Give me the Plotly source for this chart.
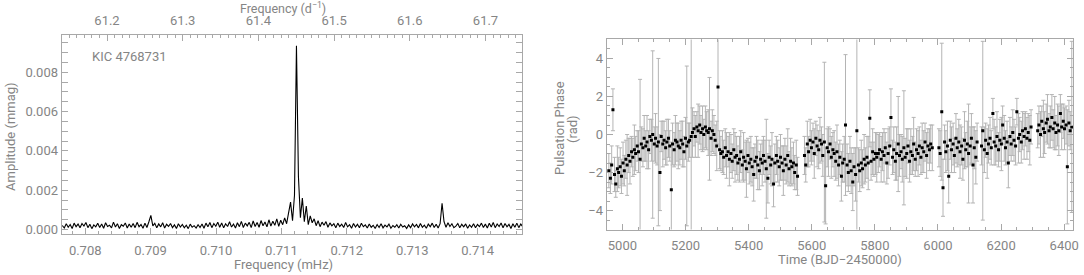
import numpy as np
import plotly.graph_objects as go

# ---------------- Left panel: amplitude spectrum ----------------
amp_mmag = [
    0.00021, 0.00008, 0.00030, 0.00012, 0.00026, 0.00006, 0.00033, 0.00015, 0.00028, 0.00009,
    0.00031, 0.00018, 0.00036, 0.00010, 0.00027, 0.00005, 0.00024, 0.00014, 0.00032, 0.00011,
    0.00029, 0.00007, 0.00035, 0.00016, 0.00022, 0.00009, 0.00038, 0.00013, 0.00030, 0.00006,
    0.00025, 0.00017, 0.00034, 0.00008, 0.00028, 0.00012, 0.00031, 0.00010, 0.00037, 0.00015,
    0.00026, 0.00007, 0.00033, 0.00011, 0.00040, 0.00072, 0.00019, 0.00032, 0.00009, 0.00029,
    0.00014, 0.00035, 0.00008, 0.00027, 0.00016, 0.00031, 0.00010, 0.00024, 0.00006, 0.00030,
    0.00013, 0.00026, 0.00009, 0.00022, 0.00005, 0.00028, 0.00012, 0.00020, 0.00008, 0.00025,
    0.00011, 0.00029, 0.00007, 0.00033, 0.00014, 0.00036, 0.00010, 0.00031, 0.00017, 0.00038,
    0.00012, 0.00034, 0.00009, 0.00030, 0.00016, 0.00040, 0.00013, 0.00028, 0.00008, 0.00035,
    0.00015, 0.00042, 0.00011, 0.00033, 0.00019, 0.00037, 0.00010, 0.00044, 0.00016, 0.00036,
    0.00012, 0.00046, 0.00020, 0.00039, 0.00014, 0.00050, 0.00018, 0.00043, 0.00022, 0.00055,
    0.00017, 0.00048, 0.00025, 0.00060, 0.00030, 0.00085, 0.00140, 0.00045, 0.00175, 0.00935,
    0.00270, 0.00060, 0.00160, 0.00040, 0.00120, 0.00025, 0.00070, 0.00035, 0.00055, 0.00020,
    0.00045, 0.00015, 0.00038, 0.00022, 0.00041, 0.00012, 0.00034, 0.00019, 0.00030, 0.00009,
    0.00033, 0.00016, 0.00028, 0.00011, 0.00036, 0.00014, 0.00025, 0.00007, 0.00031, 0.00013,
    0.00027, 0.00010, 0.00032, 0.00015, 0.00024, 0.00008, 0.00029, 0.00012, 0.00022, 0.00006,
    0.00026, 0.00011, 0.00030, 0.00009, 0.00023, 0.00014, 0.00028, 0.00007, 0.00021, 0.00012,
    0.00025, 0.00008, 0.00027, 0.00013, 0.00020, 0.00006, 0.00024, 0.00010, 0.00029, 0.00014,
    0.00026, 0.00009, 0.00031, 0.00012, 0.00023, 0.00007, 0.00028, 0.00015, 0.00033, 0.00011,
    0.00027, 0.00008, 0.00030, 0.00134, 0.00040, 0.00012, 0.00035, 0.00016, 0.00030, 0.00010,
    0.00018, 0.00031, 0.00010, 0.00027, 0.00014, 0.00029, 0.00007, 0.00024, 0.00012, 0.00030,
    0.00009, 0.00026, 0.00015, 0.00033, 0.00011, 0.00028, 0.00008, 0.00032, 0.00013, 0.00036,
    0.00010, 0.00029, 0.00016, 0.00034, 0.00009, 0.00031, 0.00014, 0.00027, 0.00006, 0.00030,
    0.00012, 0.00033, 0.00010, 0.00028, 0.00015, 0.00035, 0.00011,
]
FREQ_MIN_MHZ = 0.70765
FREQ_MAX_MHZ = 0.71475
freq_mhz = np.linspace(FREQ_MIN_MHZ, FREQ_MAX_MHZ, len(amp_mmag))  # periodogram sampling grid

freq_ticks_mhz = [0.708, 0.709, 0.710, 0.711, 0.712, 0.713, 0.714]
freq_ticks_cd = [61.2, 61.3, 61.4, 61.5, 61.6, 61.7]
amp_ticks = [0.000, 0.002, 0.004, 0.006, 0.008]
star_label = "KIC 4768731"

# ---------------- Right panel: pulsation phase ----------------
time_bjd = [
    4957, 4962, 4966, 4970, 4975, 4979, 4984, 4988, 4993, 4997,
    5002, 5006, 5011, 5015, 5020, 5024, 5029, 5033, 5038, 5042,
    5047, 5051, 5056, 5060, 5065, 5069, 5074, 5078, 5083, 5087,
    5092, 5096, 5101, 5105, 5110, 5114, 5119, 5123, 5128, 5132,
    5137, 5141, 5146, 5150, 5155, 5159, 5164, 5168, 5173, 5177,
    5182, 5186, 5191, 5195, 5200, 5204, 5209, 5213, 5218, 5222,
    5227, 5231, 5236, 5240, 5245, 5249, 5254, 5258, 5263, 5267,
    5272, 5276, 5281, 5285, 5290, 5294, 5299, 5303, 5308, 5312,
    5317, 5321, 5326, 5330, 5335, 5339, 5344, 5348, 5353, 5357,
    5362, 5366, 5371, 5375, 5380, 5384, 5389, 5393, 5398, 5402,
    5407, 5411, 5416, 5420, 5425, 5429, 5434, 5438, 5443, 5447,
    5452, 5456, 5461, 5465, 5470, 5474, 5479, 5483, 5488, 5492,
    5497, 5501, 5506, 5510, 5515, 5519, 5524, 5528, 5533, 5537,
    5542, 5546, 5551, 5555,
    5577, 5581, 5586, 5590, 5595, 5599, 5604, 5608, 5613, 5617,
    5622, 5626, 5631, 5635, 5640, 5644, 5649, 5653, 5658, 5662,
    5667, 5671, 5676, 5680, 5685, 5689, 5694, 5698, 5703, 5707,
    5712, 5716, 5721, 5725, 5730, 5734, 5739, 5743, 5748, 5752,
    5757, 5761, 5766, 5770, 5775, 5779, 5784, 5788, 5793, 5797,
    5802, 5806, 5811, 5815, 5820, 5824, 5829, 5833, 5838, 5842,
    5847, 5851, 5856, 5860, 5865, 5869, 5874, 5878, 5883, 5887,
    5892, 5896, 5901, 5905, 5910, 5914, 5919, 5923, 5928, 5932,
    5937, 5941, 5946, 5950, 5955, 5959, 5964, 5968, 5973, 5977,
    5982,
    6003, 6007, 6012, 6016, 6021, 6025, 6030, 6034, 6039, 6043,
    6048, 6052, 6057, 6061, 6066, 6070, 6075, 6079, 6084, 6088,
    6093, 6097, 6102, 6106, 6111, 6115, 6120, 6124,
    6138, 6142, 6147, 6151, 6156, 6160, 6165, 6169, 6174, 6178,
    6183, 6187, 6192, 6196, 6201, 6205, 6210, 6214, 6219, 6223,
    6228, 6232, 6237, 6241, 6246, 6250, 6255, 6259, 6264, 6268,
    6273, 6277, 6282, 6286, 6291, 6295,
    6316, 6320, 6325, 6329, 6334, 6338, 6343, 6347, 6352, 6356,
    6361, 6365, 6370, 6374, 6379, 6383, 6388, 6392, 6397, 6401,
    6406, 6410, 6415, 6419, 6424,
]
phase_rad = [
    -1.9, -2.3, -1.6, 1.3, -2.1, -2.6, -1.8, -2.0, -1.7, -2.2,
    -1.5, -1.9, -1.3, -1.6, -1.1, -1.4, -0.9, -1.2, -0.8, -1.0,
    -0.6, -0.9, -1.3, -0.5, -0.7, -0.2, -0.6, -0.4, -0.8, -0.1,
    -0.3, 0.0, -0.5, -0.2, -0.6, -0.4, -2.0, -0.1, -0.5, -0.3,
    -0.7, -0.4, -0.2, -0.6, -2.9, -0.5, -0.8, -0.3, -0.4, -0.6,
    -0.7, -0.3, -0.5, -0.9, -0.2, -0.6, -0.4, -0.3, -0.1, 0.1,
    0.3, -0.1, 0.4, 0.2, 0.5, 0.1, 0.3, 0.0, 0.4, 0.2,
    0.1, 0.3, -0.2, 0.2, 0.0, -0.3, -0.6, 2.5, -0.8, -1.0,
    -0.9, -1.2, -0.7, -1.1, -0.9, -1.3, -1.0, -1.4, -0.8, -1.2,
    -1.1, -1.5, -1.3, -0.9, -1.6, -1.2, -1.4, -1.8, -1.1, -1.5,
    -1.3, -1.7, -2.1, -1.4, -1.2, -1.6, -1.9, -1.3, -1.5, -1.1,
    -1.4, -1.8, -2.3, -1.2, -1.6, -1.3, -2.6, -1.5, -1.1, -1.4,
    -1.7, -1.2, -1.5, -1.9, -1.3, -1.6, -1.1, -1.8, -1.4, -1.7,
    -1.5, -2.0, -1.6, -2.2,
    -1.1, -1.6, -0.5, -0.9, -0.3, -0.7, -0.4, -1.0, -0.2, -0.6,
    -0.8, -0.3, -0.5, -1.1, -0.4, -2.7, -0.7, -0.9, -0.5, -1.2,
    -0.8, -1.0, -1.4, -0.9, -1.6, -1.2, -2.2, -1.5, -1.3, 0.5,
    -1.6, -2.0, -1.4, -1.9, -2.5, -1.7, -2.1, 0.2, -1.6, -1.9,
    -1.5, -1.8, -1.3, -1.6, -1.2, -1.5, 0.85, -1.4, -0.9, -1.3,
    -1.0, -1.2, -1.0, -0.8, -1.3, -0.9, -1.1, -0.7, -1.5, -1.0,
    -0.6, 0.9, -1.2, -0.8, -1.4, -1.0, -0.5, -1.1, -0.9, -1.3,
    -0.7, -1.2, -1.0, -0.6, -1.4, -0.9, -1.1, -0.5, -1.3, -0.8,
    -1.0, -0.6, -1.2, -0.7, -0.9, -0.4, -1.1, -0.6, -0.8, -0.5,
    -0.7,
    -0.7, -1.0, 1.2, -2.8, -0.4, -0.9, -0.6, -2.2, -0.3, -0.8,
    -0.5, -1.1, -0.2, -0.7, -0.4, -0.9, -0.6, -1.3, -0.3, -0.8,
    -0.5, -1.0, -0.6, -0.2, -1.6, -0.7, -1.2, -0.4,
    -0.6, 0.2, -0.8, -0.3, -1.0, -0.5, -0.2, -0.7, 1.1, -0.4,
    -0.6, -0.1, -0.8, -0.3, -0.5, 0.5, -0.2, -0.7, -0.4, -1.5,
    -0.1, -0.5, 0.1, -0.3, -0.6, 1.2, -0.2, 0.0, -0.4, 0.2,
    -0.1, 0.3, -0.2, 0.1, -0.3, 0.4,
    0.2, 0.5, 0.0, 0.7, 0.3, 0.1, 0.6, 0.8, 0.2, 0.4,
    0.9, 0.3, 0.6, 0.1, 0.5, 0.2, 1.1, 0.4, 0.7, 0.3,
    0.5, -1.7, 0.6, 0.2, 0.4,
]
phase_err = [
    0.9, 0.8, 1.0, 1.1, 0.9, 0.7, 1.2, 0.8, 1.0, 0.9,
    1.1, 0.8, 1.0, 1.6, 0.9, 1.2, 0.8, 1.0, 1.3, 0.9,
    0.8, 1.1, 4.2, 0.9, 1.0, 1.2, 0.8, 1.4, 1.0, 0.9,
    1.1, 4.4, 0.9, 1.3, 1.0, 4.4, 2.0, 0.8, 1.2, 1.0,
    0.9, 1.2, 1.0, 0.8, 2.5, 1.1, 0.9, 1.3, 1.0, 1.2,
    0.9, 1.0, 1.2, 0.8, 1.1, 4.2, 1.0, 0.9, 6.5, 1.3,
    0.9, 1.1, 0.8, 1.4, 1.0, 0.9, 1.2, 0.8, 1.1, 1.0,
    1.2, 2.7, 0.9, 1.1, 1.0, 0.8, 1.3, 3.0, 1.0, 0.9,
    1.1, 0.9, 1.0, 1.2, 0.8, 1.4, 1.0, 0.9, 1.1, 1.3,
    1.0, 0.9, 1.2, 1.1, 0.8, 1.3, 1.0, 1.5, 0.9, 1.1,
    1.2, 1.0, 1.4, 0.9, 1.1, 1.3, 1.0, 0.8, 1.2, 1.0,
    1.1, 2.6, 1.3, 0.9, 1.0, 1.4, 1.2, 1.0, 1.0, 1.1,
    1.0, 1.2, 0.9, 1.3, 1.1, 1.0, 1.4, 0.9, 1.2, 1.0,
    1.1, 0.9, 1.3, 1.0,
    1.0, 0.9, 1.2, 0.8, 1.1, 0.9, 1.0, 1.3, 0.9, 1.1,
    1.0, 1.2, 0.9, 1.1, 4.2, 2.0, 1.0, 1.3, 0.8, 1.1,
    0.9, 1.2, 1.0, 1.4, 1.1, 0.9, 1.3, 1.0, 1.2, 3.7,
    1.1, 1.0, 1.3, 1.2, 1.5, 1.0, 1.4, 6.5, 0.9, 1.1,
    1.2, 1.0, 1.3, 0.9, 1.1, 1.4, 1.5, 1.0, 1.2, 0.9,
    1.1, 1.3, 1.0, 0.9, 1.2, 1.0, 1.4, 0.8, 1.1, 1.3,
    1.0, 1.5, 0.9, 1.2, 1.0, 1.4, 2.5, 1.1, 0.9, 1.2,
    3.0, 1.0, 1.3, 0.9, 1.1, 1.2, 1.0, 1.4, 0.9, 1.1,
    1.2, 1.0, 0.9, 1.3, 1.1, 1.0, 1.2, 0.9, 1.1, 1.0,
    1.2,
    1.0, 1.2, 3.6, 1.5, 0.9, 1.1, 1.3, 1.4, 1.0, 1.2,
    1.1, 0.9, 1.3, 1.0, 1.2, 1.4, 1.0, 1.1, 1.5, 0.9,
    1.2, 2.6, 1.0, 1.3, 2.0, 1.1, 1.4, 1.0,
    1.0, 4.7, 1.2, 0.9, 1.3, 1.0, 1.1, 0.9, 0.8, 1.2,
    1.0, 1.3, 0.9, 1.1, 1.4, 1.0, 1.2, 0.9, 1.1, 1.3,
    1.0, 0.9, 1.2, 1.1, 1.0, 0.7, 1.3, 0.9, 1.1, 1.0,
    1.2, 0.9, 1.1, 1.0, 1.3, 0.9,
    0.9, 1.0, 1.2, 0.8, 1.5, 1.1, 1.0, 1.3, 0.9, 1.1,
    1.2, 1.0, 1.4, 0.9, 1.1, 1.3, 1.0, 1.2, 0.9, 1.1,
    1.0, 3.0, 1.2, 1.0, 4.5,
]
time_ticks = [5000, 5200, 5400, 5600, 5800, 6000, 6200, 6400]
phase_ticks = [-4, -2, 0, 2, 4]
phase_tick_text = ["\u22124", "\u22122", "0", "2", "4"]

MHZ_TO_CD = 86.4  # 1 mHz = 86.4 d^-1

# ---------------- Figure ----------------
W, H = 1084, 275
FONT = "Roboto"
GREY = "#858585"
AXC = "#a8a8a8"


def px_x(p):
    return p / W


def px_y(p):
    return 1 - p / H


fig = go.Figure()

fig.add_trace(go.Scatter(
    x=freq_mhz, y=amp_mmag, mode="lines",
    line=dict(color="black", width=1.1), xaxis="x", yaxis="y",
    showlegend=False, hoverinfo="skip",
))
# invisible trace that activates the top (d^-1) axis
fig.add_trace(go.Scatter(
    x=[FREQ_MIN_MHZ * MHZ_TO_CD], y=[0], mode="markers",
    marker=dict(size=1, color="rgba(0,0,0,0)"),
    xaxis="x3", yaxis="y", showlegend=False, hoverinfo="skip",
))
fig.add_trace(go.Scatter(
    x=time_bjd, y=phase_rad, mode="markers",
    marker=dict(symbol="square", size=3, color="black"),
    error_y=dict(type="data", array=phase_err, visible=True,
                 color="#b4b4b4", thickness=1, width=2),
    xaxis="x2", yaxis="y2", showlegend=False, hoverinfo="skip",
))

tickfont = dict(family=FONT, size=13, color=GREY)
common = dict(showgrid=False, zeroline=False, showline=True, linecolor=AXC,
              linewidth=1, ticks="inside", tickcolor=AXC, ticklen=6,
              tickfont=tickfont, ticklabeloverflow="allow")

x_left = [px_x(62), px_x(525)]
y_left = [px_y(237), px_y(36)]
x_right = [px_x(610), px_x(1079)]
y_right = [px_y(233), px_y(40)]

XL_RANGE = [0.70764, 0.71468]

fig.update_layout(
    width=W, height=H, margin=dict(l=0, r=0, t=0, b=0),
    paper_bgcolor="white", plot_bgcolor="white",
    xaxis=dict(domain=x_left, range=XL_RANGE, anchor="y",
               tickvals=freq_ticks_mhz, tickformat=".3f", ticklabelstandoff=5,
               minor=dict(ticks="inside", ticklen=3, dtick=0.0002, tickcolor=AXC),
               **common),
    xaxis3=dict(overlaying="x", side="top", anchor="y",
                range=[XL_RANGE[0] * MHZ_TO_CD, XL_RANGE[1] * MHZ_TO_CD],
                tickvals=freq_ticks_cd, tickformat=".1f", ticklabelstandoff=4,
                minor=dict(ticks="inside", ticklen=3, dtick=0.01, tickcolor=AXC),
                **common),
    yaxis=dict(domain=y_left, range=[-0.0002, 0.00987], anchor="x",
               tickvals=amp_ticks, tickformat=".3f", mirror="allticks",
               minor=dict(ticks="inside", ticklen=3, dtick=0.0005, tickcolor=AXC),
               **common),
    xaxis2=dict(domain=x_right, range=[4950, 6428], anchor="y2",
                tickvals=time_ticks, mirror="allticks", ticklabelstandoff=4,
                minor=dict(ticks="inside", ticklen=3, dtick=50, tickcolor=AXC),
                **common),
    yaxis2=dict(domain=y_right, range=[-5, 5], anchor="x2",
                tickvals=phase_ticks, ticktext=phase_tick_text, mirror="allticks",
                minor=dict(ticks="inside", ticklen=3, dtick=0.5, tickcolor=AXC),
                **common),
)

ann_font = dict(family=FONT, size=13, color=GREY)
annotations = [
    dict(text="Frequency (d<sup>\u22121</sup>)", x=px_x(285), y=px_y(8),
         font=dict(family=FONT, size=12.5, color=GREY)),
    dict(text="Frequency (mHz)", x=px_x(285), y=px_y(268.5)),
    dict(text="Amplitude (mmag)", x=px_x(11), y=px_y(138), textangle=-90),
    dict(text=star_label, x=px_x(130), y=px_y(57)),
    dict(text="Pulsation Phase", x=px_x(562), y=px_y(130), textangle=-90),
    dict(text="(rad)", x=px_x(575), y=px_y(131), textangle=-90),
    dict(text="Time (BJD\u22122450000)", x=px_x(845), y=px_y(263)),
]
for a in annotations:
    a.setdefault("font", ann_font)
    fig.add_annotation(xref="paper", yref="paper", showarrow=False,
                       xanchor="center", yanchor="middle", **a)

# remove the browser's default 8 px body margin so the figure fills the window exactly
fig.write_html("out.html",
               config={"displayModeBar": False},
               post_script="document.body.style.margin='0';document.body.style.overflow='hidden';")
